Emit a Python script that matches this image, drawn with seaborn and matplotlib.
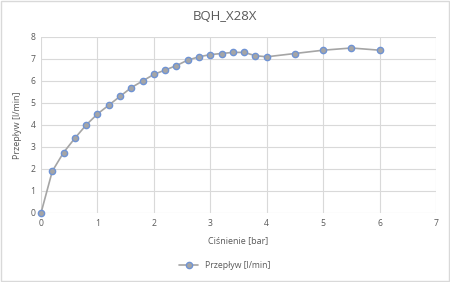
import matplotlib
matplotlib.use("Agg")
import matplotlib.pyplot as plt
import seaborn as sns
import pandas as pd

pressure = [0, 0.2, 0.4, 0.6, 0.8, 1.0, 1.2, 1.4, 1.6, 1.8, 2.0, 2.2, 2.4, 2.6, 2.8,
            3.0, 3.2, 3.4, 3.6, 3.8, 4.0, 4.5, 5.0, 5.5, 6.0]
flow = [0, 1.9, 2.75, 3.4, 4.0, 4.5, 4.9, 5.3, 5.7, 6.0, 6.3, 6.5, 6.7, 6.95, 7.1,
        7.2, 7.25, 7.3, 7.3, 7.15, 7.1, 7.25, 7.4, 7.5, 7.4]
title = "BQH_X28X"
xlabel = "Ciśnienie [bar]"
ylabel = "Przepływ [l/min]"
series_name = "Przepływ [l/min]"

df = pd.DataFrame({"x": pressure, "y": flow, "s": series_name})

sns.set_style("white")
plt.rcParams["font.family"] = ["Open Sans", "DejaVu Sans"]
txt = "#595959"
grid = "#D9D9D9"

fig = plt.figure(figsize=(4.5, 2.82), dpi=100)
ax = fig.add_axes([41/450, 1-213/282, (436-41)/450, (213-37)/282])

sns.lineplot(data=df, x="x", y="y", hue="s", palette=["#A5A5A5"], ax=ax,
             marker="o", markersize=4.5, markerfacecolor="#A5A5A5",
             markeredgecolor="#6F93D4", markeredgewidth=1.0, linewidth=1.2,
             legend=True, clip_on=False, zorder=3)

ax.set_xlim(0, 7)
ax.set_ylim(0, 8)
ax.set_xticks(range(0, 8))
ax.set_yticks(range(0, 9))
ax.grid(True, color=grid, linewidth=0.8)
ax.set_axisbelow(True)
for s in ax.spines.values():
    s.set_visible(False)
ax.tick_params(length=0, labelsize=6.2, colors=txt, pad=4)
ax.set_xlabel(xlabel, fontsize=6.5, color=txt, labelpad=6)
ax.set_ylabel(ylabel, fontsize=6.5, color=txt, labelpad=6)
fig.suptitle(title, x=0.5, y=1-16/282, va="center", fontsize=9.5, color=txt)

leg = ax.legend(loc="center", frameon=False, fontsize=6.2, handlelength=2.2, borderaxespad=0)
for t in leg.get_texts():
    t.set_color(txt)
leg.set_bbox_to_anchor((0.5, 1-266/282), transform=fig.transFigure)

fig.patches.append(plt.Rectangle((0.002, 0.003), 0.996, 0.994, transform=fig.transFigure,
                                 fill=False, edgecolor="#D9D9D9", linewidth=1.0))
fig.savefig("out.png", dpi=100, facecolor="white")
